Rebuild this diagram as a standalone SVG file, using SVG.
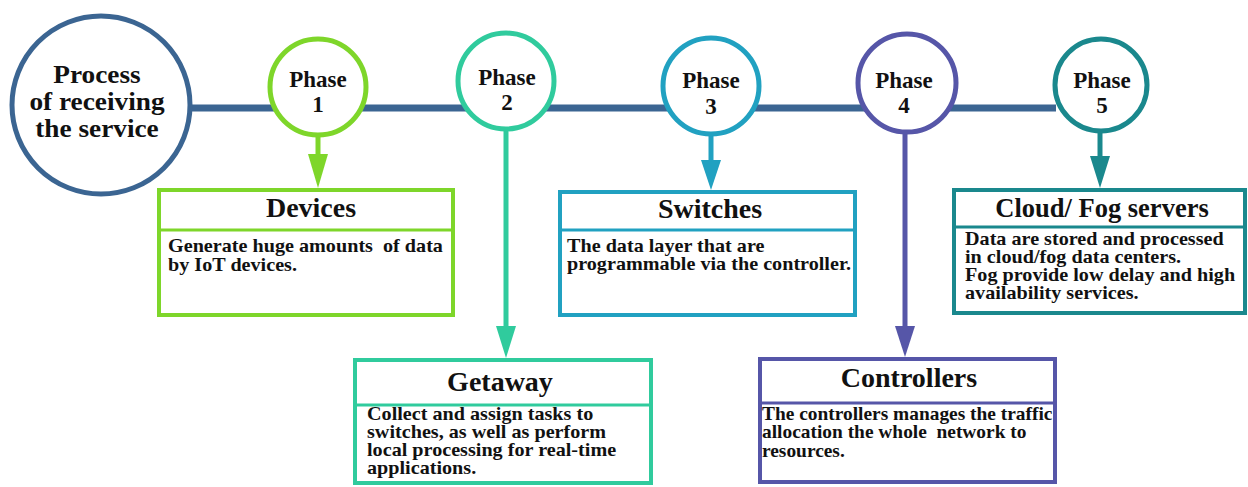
<svg xmlns="http://www.w3.org/2000/svg" width="1248" height="487" viewBox="0 0 1248 487" font-family="Liberation Serif, serif" font-weight="bold">
<style>
text{fill:#111}
.main{font-size:26px;text-anchor:middle}
.ph{font-size:23px;text-anchor:middle}
.title{font-size:28px;text-anchor:middle}
.body{font-size:18px}
.circ{fill:#fff;stroke-width:5}
.box{fill:#fff;stroke-width:4}
.div{stroke-width:3}
.c0{stroke:#3b6592}
.c1{stroke:#7ed62a}.f1{fill:#7ed62a}
.c2{stroke:#30cb9d}.f2{fill:#30cb9d}
.c3{stroke:#21a1c1}.f3{fill:#21a1c1}
.c4{stroke:#5656a8}.f4{fill:#5656a8}
.c5{stroke:#1a888d}.f5{fill:#1a888d}
.shaft{stroke-width:5;fill:none}
</style>
<g id="connectors">
<line x1="190" y1="108" x2="1056" y2="108" stroke="#3b6592" stroke-width="7"/>
<line class="shaft c1" x1="318" y1="135" x2="318" y2="160"/>
<polygon class="f1" points="308,154 328,154 318,188"/>
<line class="shaft c2" x1="506" y1="128" x2="506" y2="332"/>
<polygon class="f2" points="496,326 516,326 506,358"/>
<line class="shaft c3" x1="711" y1="133" x2="711" y2="166"/>
<polygon class="f3" points="701,160 721,160 711,190"/>
<line class="shaft c4" x1="905" y1="131" x2="905" y2="332"/>
<polygon class="f4" points="895,326 915,326 905,357"/>
<line class="shaft c5" x1="1100" y1="130" x2="1100" y2="162"/>
<polygon class="f5" points="1090,156 1110,156 1100,188"/>
</g>
<g id="process">
<circle class="circ c0" cx="101" cy="105" r="89"/>
<text class="main" transform="translate(97 0) scale(1.05 1)"><tspan x="0" y="83">Process</tspan><tspan x="0" y="110">of receiving</tspan><tspan x="0" y="137">the service</tspan></text>
</g>
<g id="phase1">
<circle class="circ c1" cx="318" cy="87" r="48"/>
<text class="ph" x="318" y="87">Phase</text>
<text class="ph" x="318" y="112">1</text>
</g>
<g id="phase2">
<circle class="circ c2" cx="506" cy="81" r="48"/>
<text class="ph" x="507" y="85">Phase</text>
<text class="ph" x="507" y="110">2</text>
</g>
<g id="phase3">
<circle class="circ c3" cx="711" cy="86" r="48"/>
<text class="ph" x="711" y="88">Phase</text>
<text class="ph" x="711" y="114">3</text>
</g>
<g id="phase4">
<circle class="circ c4" cx="907" cy="83" r="49"/>
<text class="ph" x="904" y="88">Phase</text>
<text class="ph" x="904" y="113">4</text>
</g>
<g id="phase5">
<circle class="circ c5" cx="1101" cy="85" r="46"/>
<text class="ph" x="1102" y="88">Phase</text>
<text class="ph" x="1102" y="113">5</text>
</g>
<g id="devices">
<rect class="box c1" x="159" y="190" width="294" height="125"/>
<line class="div c1" x1="159" y1="230" x2="453" y2="230"/>
<text class="title" x="311" y="217">Devices</text>
<text class="body" transform="translate(168 0) scale(1.12 1)"><tspan x="0" y="252">Generate huge amounts&#160; of data</tspan><tspan x="0" y="271">by IoT devices.</tspan></text>
</g>
<g id="getaway">
<rect class="box c2" x="355" y="360" width="296" height="123"/>
<line class="div c2" x1="355" y1="405" x2="651" y2="405"/>
<text class="title" x="500" y="391">Getaway</text>
<text class="body" transform="translate(367 0) scale(1.12 1)"><tspan x="0" y="420">Collect and assign tasks to</tspan><tspan x="0" y="438">switches, as well as perform</tspan><tspan x="0" y="456">local processing for real-time</tspan><tspan x="0" y="474">applications.</tspan></text>
</g>
<g id="switches">
<rect class="box c3" x="560" y="192" width="295" height="123"/>
<line class="div c3" x1="560" y1="230" x2="855" y2="230"/>
<text class="title" x="710" y="218">Switches</text>
<text class="body" transform="translate(567 0) scale(1.12 1)"><tspan x="0" y="252">The data layer that are</tspan><tspan x="0" y="270">programmable via the controller.</tspan></text>
</g>
<g id="controllers">
<rect class="box c4" x="760" y="359" width="295" height="123"/>
<line class="div c4" x1="760" y1="403" x2="1055" y2="403"/>
<text class="title" x="909" y="387">Controllers</text>
<text class="body" transform="translate(762 0) scale(1.078 1)"><tspan x="0" y="420">The controllers manages the traffic</tspan><tspan x="0" y="438">allocation the whole&#160; network to</tspan><tspan x="0" y="457">resources.</tspan></text>
</g>
<g id="cloud">
<rect class="box c5" x="954" y="190" width="291" height="123"/>
<line class="div c5" x1="954" y1="227" x2="1245" y2="227"/>
<text class="title" x="1102" y="217" style="font-size:26.5px">Cloud/ Fog servers</text>
<text class="body" transform="translate(965 0) scale(1.12 1)"><tspan x="0" y="245">Data are stored and processed</tspan><tspan x="0" y="263">in cloud/fog data centers.</tspan><tspan x="0" y="281">Fog provide low delay and high</tspan><tspan x="0" y="299">availability services.</tspan></text>
</g>
</svg>
